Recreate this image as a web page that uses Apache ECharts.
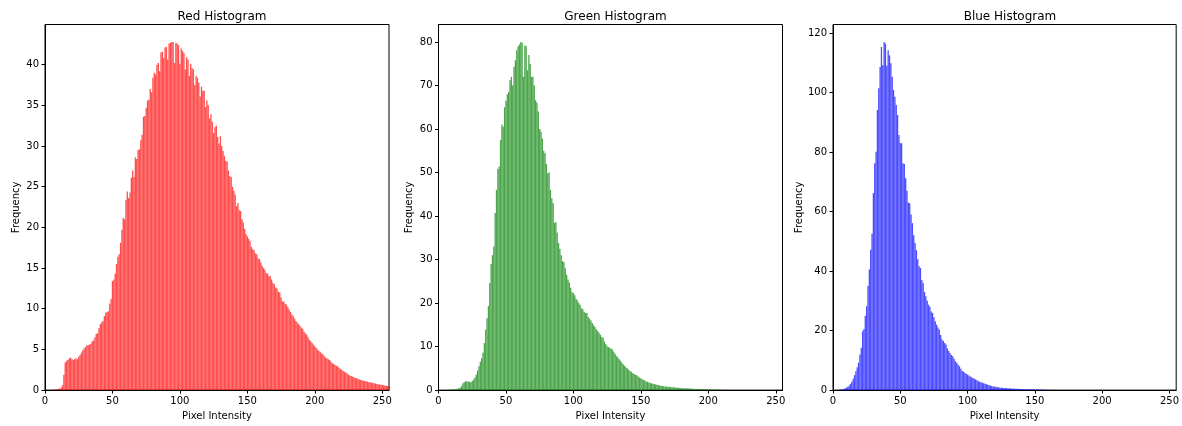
<!DOCTYPE html>
<html>
<head>
<meta charset="utf-8">
<script src="https://cdn.jsdelivr.net/npm/echarts@6/dist/echarts.min.js"></script>
<style>
    html,body{margin:0;padding:0;background:#fff;}
    #main{width:1182px;height:426px;}
</style>
</head>
<body>
<div id="main"></div>
<script>
    // 像素强度 0..255
    var titles=["Red Histogram","Green Histogram","Blue Histogram"];
    var xTicks=[0,50,100,150,200,250];
    var yIntervals=[5,10,20];

    var redHist=[
        0,0,0,0,0,0,0.05,0.08,0.1,0.12,0.15,0.2,0.3,0.6,1.9,3.4,
        3.6,3.7,3.9,4.0,3.8,3.7,3.8,3.9,3.8,4.1,4.3,4.6,4.9,5.1,5.3,5.5,
        5.5,5.6,5.7,6.0,6.1,6.5,6.9,7.0,7.6,8.1,8.3,8.5,9.1,9.5,9.6,9.7,
        10.6,11.2,13.4,13.6,14.3,15.5,16.4,16.7,18.1,19.7,21.2,21.0,23.4,24.4,23.6,24.3,
        26.1,27.0,26.2,28.6,28.4,29.5,29.6,30.7,31.4,33.6,33.7,34.7,35.6,35.7,37.0,36.6,
        38.4,39.0,38.8,40.0,40.2,39.2,41.5,41.6,40.8,42.1,42.2,40.6,42.6,42.7,42.8,42.8,
        40.2,42.7,42.6,42.4,40.1,42.0,41.7,41.4,39.4,40.9,40.6,38.6,40.1,39.6,39.4,37.5,
        38.6,38.4,37.8,36.1,37.3,36.8,36.8,34.8,35.6,35.0,33.4,33.9,33.0,31.6,32.3,32.5,
        31.1,30.3,31.2,30.0,29.4,28.8,28.2,28.1,27.0,26.3,26.2,25.0,24.5,24.0,22.6,23.0,
        22.1,22.0,21.0,20.6,19.8,19.2,18.9,18.6,18.3,17.6,17.3,17.2,16.8,16.7,16.2,16.1,
        15.7,15.3,15.0,14.8,14.4,14.3,14.0,14.0,13.6,13.2,13.0,12.6,12.5,12.1,12.0,11.4,
        10.9,10.9,10.6,10.5,10.2,9.9,9.6,9.3,9.1,8.8,8.5,8.3,8.1,7.9,7.7,7.5,
        7.2,7.0,6.8,6.5,6.2,6.0,5.8,5.6,5.4,5.2,5.0,4.8,4.7,4.5,4.4,4.2,
        4.0,3.9,3.8,3.7,3.5,3.3,3.2,3.1,3.0,2.9,2.75,2.6,2.5,2.35,2.25,2.15,
        2.05,1.9,1.8,1.72,1.65,1.58,1.5,1.45,1.38,1.3,1.25,1.2,1.15,1.12,1.1,1.03,
        0.98,0.95,0.92,0.9,0.84,0.8,0.76,0.73,0.7,0.66,0.62,0.6,0.56,0.52,0.5,0.45
    ];

    var greenHist=[
        0,0,0,0,0,0,0,0,0.1,0.1,0.15,0.15,0.2,0.25,0.3,0.4,
        0.55,0.9,1.5,1.8,2.0,2.06,2.0,1.9,1.8,2.1,2.4,2.9,3.6,4.5,5.5,6.5,
        7.3,8.6,10.8,13.9,16.5,19.3,24.6,29.0,31.0,33.0,40.7,46.0,50.8,51.4,57.5,61.0,
        60.5,65.0,66.5,68.0,68.5,71.2,72.0,70.0,74.3,75.8,78.1,79.0,79.4,80.0,79.8,72.0,
        79.2,79.0,73.5,77.0,75.0,72.0,72.0,70.0,66.6,66.0,64.0,60.0,59.4,57.8,55.0,54.4,
        52.0,49.8,50.0,46.0,44.1,43.0,38.4,38.6,36.2,33.8,32.5,31.0,29.6,29.4,28.0,26.5,
        25.4,24.7,23.5,22.5,22.3,21.8,21.0,20.6,20.0,19.6,18.8,18.6,18.0,17.7,17.7,16.8,
        16.4,16.0,15.4,14.9,14.5,14.0,13.6,13.2,12.7,12.2,12.0,11.2,10.6,10.1,9.9,9.7,
        9.5,9.3,8.8,8.3,7.8,7.5,7.1,6.7,6.3,5.9,5.6,5.2,5.0,4.7,4.36,4.2,
        3.9,3.7,3.5,3.4,3.1,2.9,2.7,2.5,2.3,2.2,2.0,1.9,1.75,1.65,1.55,1.45,
        1.38,1.3,1.22,1.15,1.08,1.0,0.95,0.9,0.85,0.82,0.78,0.75,0.72,0.68,0.64,0.6,
        0.58,0.55,0.52,0.5,0.47,0.45,0.43,0.42,0.4,0.4,0.38,0.35,0.33,0.3,0.3,0.28,
        0.27,0.25,0.24,0.22,0.2,0.2,0.19,0.18,0.17,0.17,0.16,0.15,0.15,0.14,0.13,0.12,
        0.1,0.08,0,0,0,0,0,0,0,0,0,0,0,0,0,0,
        0,0,0,0,0,0,0,0,0,0,0,0,0,0,0,0,
        0,0,0,0,0,0,0,0,0,0,0,0,0,0,0,0
    ];

    var blueHist=[
        0,0,0,0,0,0.1,0.2,0.3,0.4,0.6,0.8,1.1,1.5,2.1,2.8,3.8,
        5.0,6.3,7.7,9.2,12.0,14.2,19.8,20.5,25.0,28.2,35.0,40.5,47.2,52.5,66.2,76.2,
        80.1,94.1,101.4,108.6,115.3,109.2,117.0,116.5,109.0,114.2,112.5,109.8,105.3,100.8,98.6,95.8,
        92.4,85.7,83.0,82.9,76.2,76.0,71.2,67.0,63.0,62.8,59.0,56.1,52.0,49.4,47.0,44.0,
        41.6,41.0,37.0,36.0,33.0,31.5,30.0,28.7,28.0,26.4,25.9,24.5,23.1,22.0,21.0,20.3,
        18.5,17.0,16.5,15.8,15.3,14.0,13.1,12.5,11.8,11.4,10.5,9.7,9.2,8.5,8.0,7.2,
        6.4,6.2,5.8,5.5,5.2,4.9,4.6,4.3,4.1,3.8,3.6,3.3,3.0,2.8,2.6,2.5,
        2.3,2.1,2.0,1.8,1.7,1.5,1.35,1.25,1.15,1.1,1.0,0.9,0.85,0.8,0.75,0.7,
        0.68,0.65,0.6,0.58,0.55,0.52,0.5,0.48,0.45,0.43,0.42,0.4,0.38,0.36,0.35,0.33,
        0.32,0.3,0.3,0.28,0.27,0.25,0.25,0.24,0.22,0.2,0.2,0.18,0.17,0.15,0.14,0.12,
        0.1,0,0,0,0,0,0,0,0,0,0,0,0,0,0,0,
        0,0,0,0,0,0,0,0,0,0,0,0,0,0,0,0,
        0,0,0,0,0,0,0,0,0,0,0,0,0,0,0,0,
        0,0,0,0,0,0,0,0,0,0,0,0,0,0,0,0,
        0,0,0,0,0,0,0,0,0,0,0,0,0,0,0,0,
        0,0,0,0,0,0,0,0,0,0,0,0,0,0,0,0
    ];

    var hists=[redHist,greenHist,blueHist];
    var barColors=["rgba(255,0,0,0.7)","rgba(0,128,0,0.7)","rgba(0,0,255,0.7)"];
    var gridLefts=[45,438.5,833];
    var gridWidth=344;
    var font="DejaVu Sans";

    var option={
        animation:false,
        textStyle:{fontFamily:font},
        title:[],grid:[],xAxis:[],yAxis:[],series:[]
    };

    for(var k=0;k<3;k++){
        var pts=[];
        for(var i=0;i<hists[k].length;i++){pts.push([i,hists[k][i]]);}

        option.title.push({
            text:titles[k],
            left:gridLefts[k]+gridWidth/2,
            top:6,
            textAlign:"center",
            textStyle:{fontFamily:font,fontSize:12,fontWeight:"normal",color:"#000"}
        });
        option.grid.push({
            left:gridLefts[k],width:gridWidth,top:24.5,bottom:35.5,
            show:true,borderColor:"#000",borderWidth:1,backgroundColor:"transparent"
        });
        option.xAxis.push({
            type:"value",gridIndex:k,min:0,max:255,interval:50,
            name:"Pixel Intensity",nameLocation:"middle",nameGap:19,
            nameTextStyle:{fontFamily:font,fontSize:10,color:"#000"},
            splitLine:{show:false},
            axisLine:{show:true,lineStyle:{color:"#000",width:1}},
            axisTick:{show:true,length:3.5,lineStyle:{color:"#000"}},
            axisLabel:{fontFamily:font,fontSize:10,color:"#000",margin:6,
                showMaxLabel:false,
                formatter:function(v){return xTicks.indexOf(v)>=0?String(v):"";}}
        });
        option.yAxis.push({
            type:"value",gridIndex:k,min:0,interval:yIntervals[k],
            max:function(v){return v.max*1.05;},
            name:"Frequency",nameLocation:"middle",nameGap:24,
            nameTextStyle:{fontFamily:font,fontSize:10,color:"#000"},
            splitLine:{show:false},
            axisLine:{show:true,lineStyle:{color:"#000",width:1}},
            axisTick:{show:true,length:3.5,lineStyle:{color:"#000"}},
            axisLabel:{fontFamily:font,fontSize:10,color:"#000",margin:6,showMaxLabel:false}
        });
        option.series.push({
            type:"bar",xAxisIndex:k,yAxisIndex:k,
            data:pts,barWidth:"96%",silent:true,
            itemStyle:{color:barColors[k]}
        });
    }

    var chart=echarts.init(document.getElementById("main"));
    chart.setOption(option);
</script>
</body>
</html>
